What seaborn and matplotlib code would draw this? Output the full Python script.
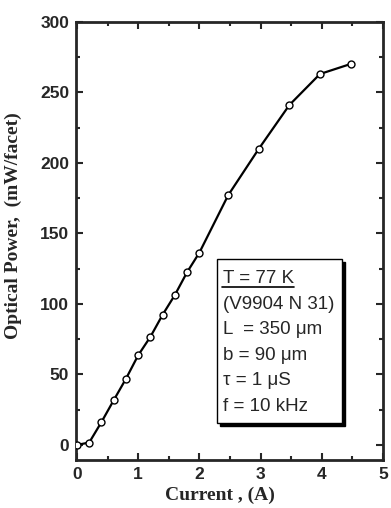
import numpy as np
import pandas as pd
import seaborn as sns
import matplotlib.pyplot as plt
from matplotlib.patches import Rectangle
from matplotlib.lines import Line2D
from matplotlib.ticker import MultipleLocator

# values
current = [0.0, 0.2, 0.4, 0.6, 0.8, 1.0, 1.2, 1.4, 1.6, 1.8, 2.0,
           2.47, 2.97, 3.47, 3.97, 4.47]
power = [0.0, 1.7, 16.2, 31.7, 46.9, 63.6, 76.7, 92.4, 106.4, 122.6, 136.4,
         177.1, 210.0, 241.1, 263.1, 270.2]
box_lines = ["T = 77 K", "(V9904 N 31)", "L  = 350 \u03bcm", "b = 90 \u03bcm",
             "\u03c4 = 1 \u03bcS", "f = 10 kHz"]

df = pd.DataFrame({"current": current, "power": power})

sns.set_style("ticks")
plt.rcParams["font.family"] = ["Liberation Sans", "DejaVu Sans"]

fig = plt.figure(figsize=(3.91, 5.08), dpi=100)
ax = fig.add_axes([76 / 391, 1 - 460 / 508, 307 / 391, 438 / 508])

sns.lineplot(data=df, x="current", y="power", ax=ax, color="black", lw=1.6,
             marker="o", markersize=5, markerfacecolor="white",
             markeredgecolor="black", markeredgewidth=1.0, zorder=3)

ax.set_xlim(-0.016, 5)
ax.set_ylim(-10.7, 300)
ax.xaxis.set_major_locator(MultipleLocator(1))
ax.xaxis.set_minor_locator(MultipleLocator(0.5))
ax.yaxis.set_major_locator(MultipleLocator(50))
ax.yaxis.set_minor_locator(MultipleLocator(25))
ax.tick_params(which="both", direction="in", top=True, right=True, width=1.5)
ax.tick_params(which="major", length=5, labelsize=12.5, pad=5)
ax.tick_params(which="minor", length=3)
for lab in ax.get_xticklabels() + ax.get_yticklabels():
    lab.set_fontweight("bold")
for sp in ax.spines.values():
    sp.set_linewidth(2)

ax.set_xlabel("Current , (A)", family=["Liberation Serif"], fontweight="bold",
              fontsize=14, labelpad=0)
ax.set_ylabel("Optical Power,  (mW/facet)", family=["Liberation Serif"],
              fontweight="bold", fontsize=14)
ax.xaxis.set_label_coords(0.47, -0.062)
ax.yaxis.set_label_coords(-0.175, 0.535)

# parameter box with drop shadow
bx0, by0, bw, bh = 0.459, 0.0845, 0.407, 0.3745
ax.add_patch(Rectangle((bx0 + 0.010, by0 - 0.007), bw, bh, transform=ax.transAxes,
                       facecolor="black", edgecolor="black", zorder=4))
ax.add_patch(Rectangle((bx0, by0), bw, bh, transform=ax.transAxes,
                       facecolor="white", edgecolor="black", lw=1.0, zorder=5))
for i, s in enumerate(box_lines):
    ax.text(bx0 + 0.02, 0.403 - i * 0.058, s, transform=ax.transAxes,
            fontsize=13.5, va="baseline", ha="left", zorder=6)
ax.add_line(Line2D([bx0 + 0.015, bx0 + 0.25], [0.396, 0.396], transform=ax.transAxes,
                   color="black", lw=1.2, zorder=6))

fig.savefig("out.png", dpi=100)
